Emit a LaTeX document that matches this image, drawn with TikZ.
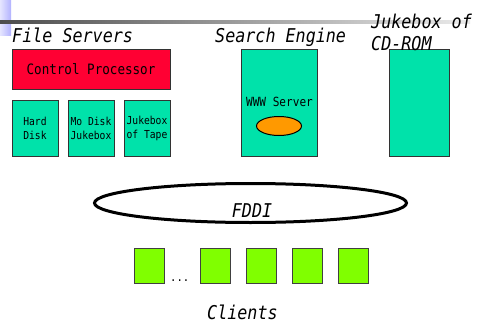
\documentclass[tikz,border=0pt]{standalone}
\usepackage{fontspec}
\usetikzlibrary{shapes.geometric}
\newfontfamily\gothic[FakeStretch=0.88]{DejaVu Sans Mono}
\definecolor{cpred}{RGB}{255,0,51}
\definecolor{diskteal}{RGB}{0,226,170}
\definecolor{serverorange}{RGB}{255,153,0}
\definecolor{clientgreen}{RGB}{128,255,0}
\begin{document}
\begin{tikzpicture}[x=1pt, y=-1pt,
	heading/.style={font=\gothic\itshape\fontsize{19}{22}\selectfont, inner sep=0pt},
	unit/.style={draw=black!80, fill=diskteal, line width=0.8pt},
	smallbox/.style={unit, minimum width=46pt, minimum height=56pt, align=left, inner sep=0pt, font=\gothic\fontsize{11}{14}\selectfont},
	client/.style={draw=black!75, fill=clientgreen, minimum width=30pt, minimum height=35pt, inner sep=0pt, line width=0.8pt}]
	\useasboundingbox (0,0) rectangle (477,324);
	% slide decoration
	\shade[left color=blue!10, right color=blue!30] (0,0) rectangle (11,35);
	\shade[left color=black!70, right color=black!8] (0,20) rectangle (470,23);

	% file servers
	\node[heading, anchor=base west] (fsl) at (12,42) {File Servers};
	\node[unit, fill=cpred, minimum width=158pt, minimum height=40pt, font=\gothic\fontsize{14.3}{16}\selectfont] (cp) at (91,69) {Control Processor};
	\node[smallbox] (hd) at (35,128) {Hard\\Disk};
	\node[smallbox] (mo) at (91,128) {Mo Disk\\Jukebox};
	\node[smallbox] (tape) at (147,128) {Jukebox\\of Tape};

	% search engine
	\node[heading, anchor=base west] (sel) at (215,42) {Search Engine};
	\node[unit, minimum width=76pt, minimum height=107pt] (se) at (279,102.5) {};
	\node[font=\gothic\fontsize{12.6}{15}\selectfont, inner sep=0pt] (www) at (279.5,102) {WWW Server};
	\node[ellipse, draw=black, fill=serverorange, line width=1pt, minimum width=45pt, minimum height=19pt, inner sep=0pt] (db) at (279,126) {};

	% CD-ROM
	\node[unit, minimum width=60pt, minimum height=107pt] (cd) at (419,102.5) {};
	\node[heading, anchor=north west, align=left] (cdl) at (371,14) {Jukebox of\\CD-ROM};

	% ring
	\node[ellipse, draw=black, line width=3pt, minimum width=312pt, minimum height=39pt] (fddi) at (250.5,203) {};
	\node[heading] (fddil) at (252,211) {FDDI};

	% clients
	\node[client] (c1) at (149.5,265.5) {};
	\node[client] (c2) at (215.5,265.5) {};
	\node[client] (c3) at (261.5,265.5) {};
	\node[client] (c4) at (307.5,265.5) {};
	\node[client] (c5) at (353,265.5) {};
	\node[font=\gothic\fontsize{12}{14}\selectfont, anchor=base west, inner sep=0pt] (dots) at (170,281) {...};
	\node[heading, anchor=base west] (cl) at (207,319) {Clients};
\end{tikzpicture}
\end{document}
